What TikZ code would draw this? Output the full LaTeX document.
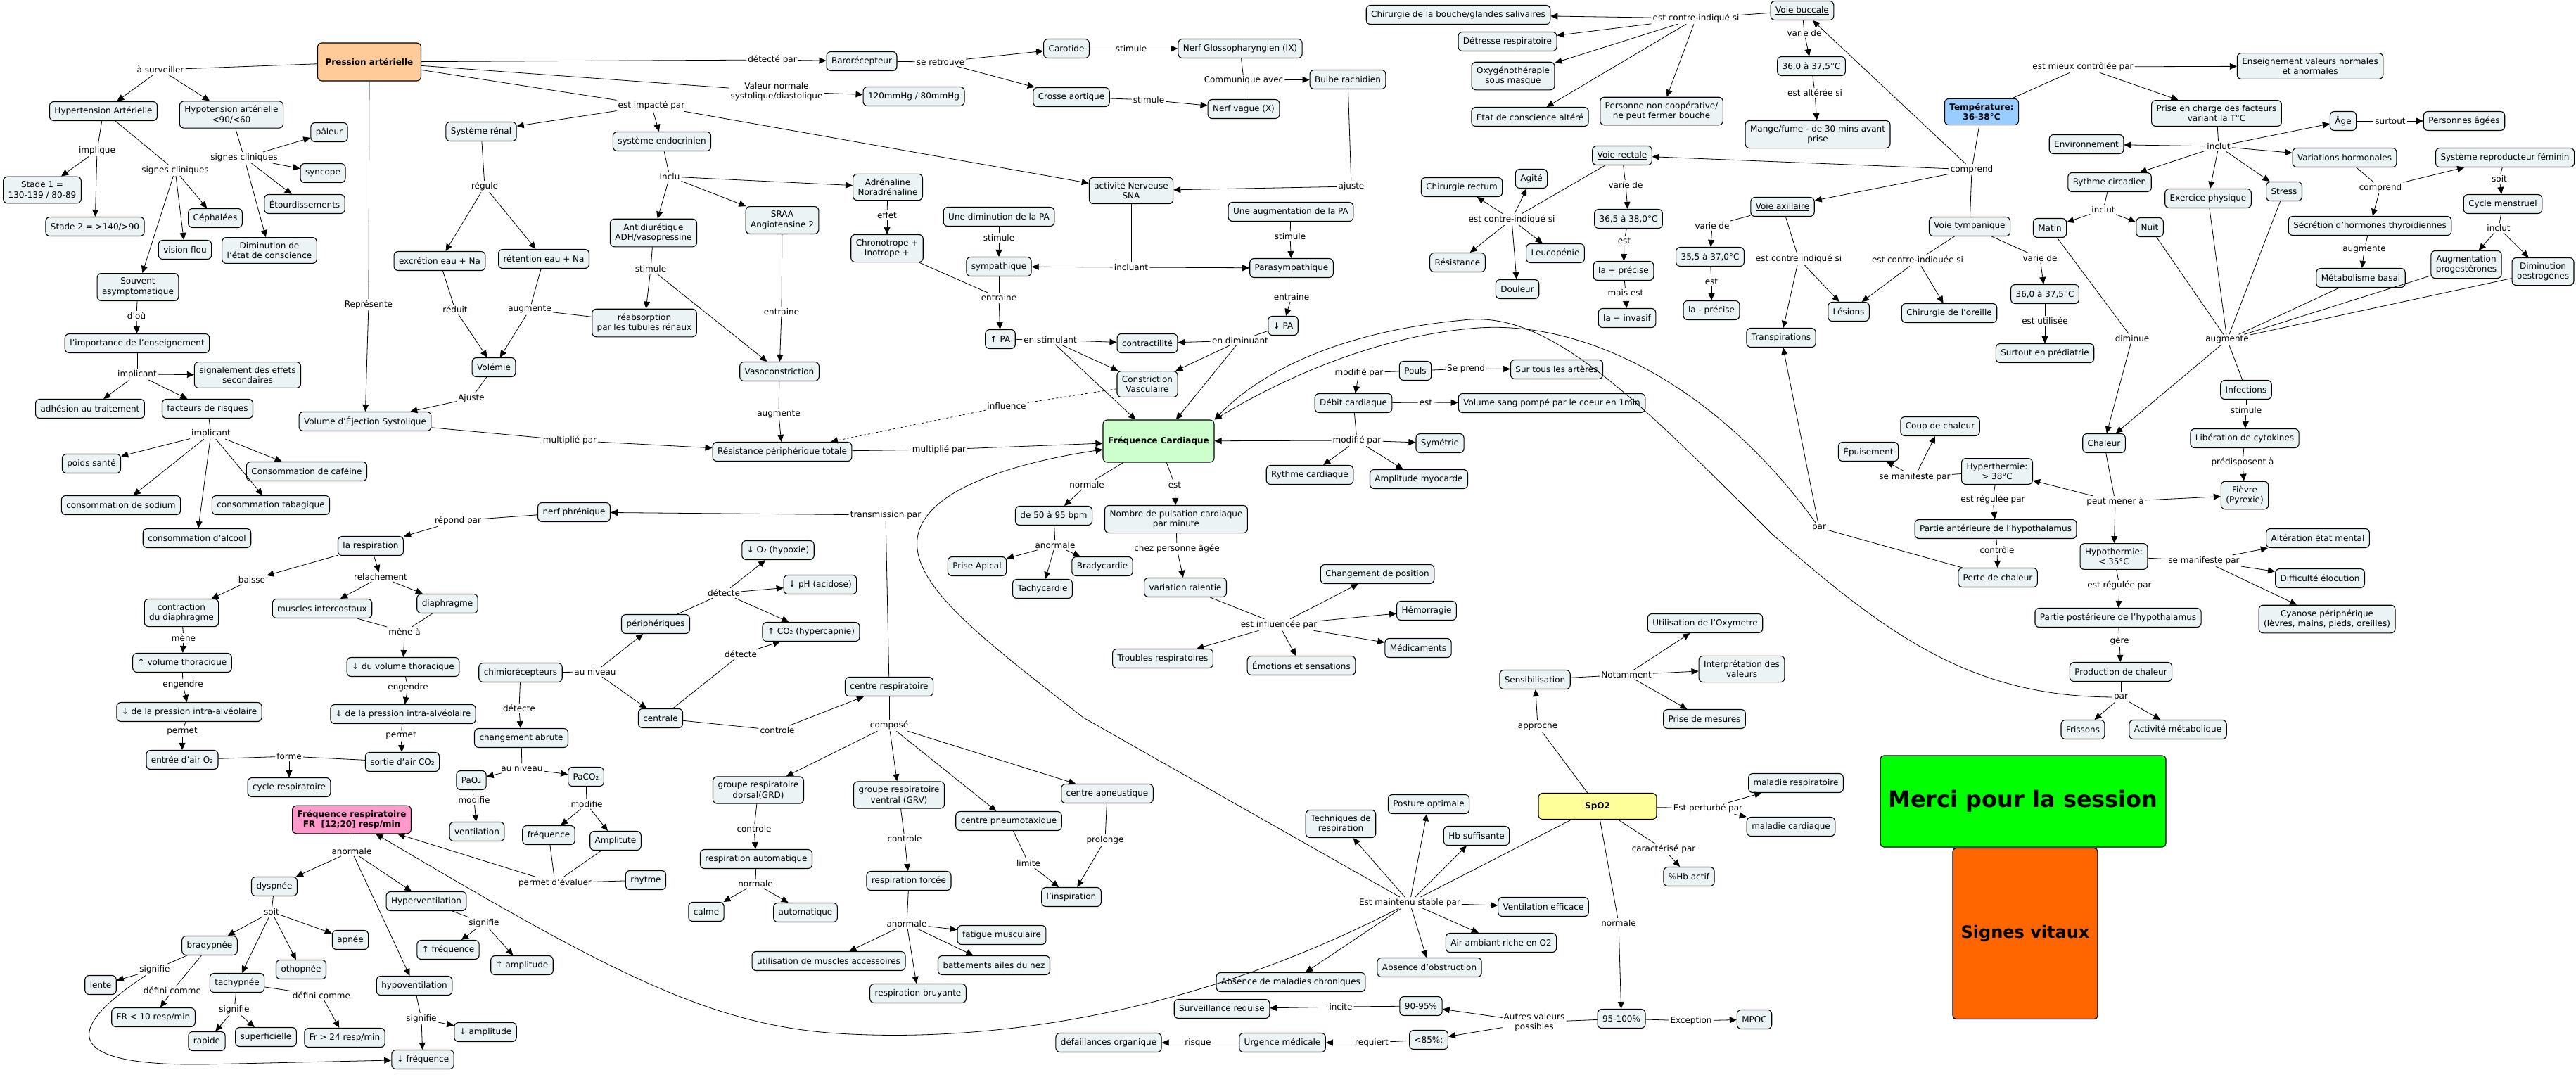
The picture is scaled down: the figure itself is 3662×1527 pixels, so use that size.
\documentclass[tikz,border=0pt]{standalone}
\usepackage{fontspec}
\setmainfont{DejaVu Sans}
\usetikzlibrary{arrows.meta}
\definecolor{nf}{RGB}{235,243,245}
\definecolor{cpa}{RGB}{255,204,153}
\definecolor{ctemp}{RGB}{153,204,255}
\definecolor{cfc}{RGB}{204,255,204}
\definecolor{cspo}{RGB}{255,255,153}
\definecolor{cfr}{RGB}{255,153,204}
\definecolor{cmerci}{RGB}{0,255,0}
\definecolor{csig}{RGB}{255,102,0}
\newcommand{\mfs}{\fontsize{12}{14.5}\selectfont}
\begin{document}
\begin{tikzpicture}[x=1pt,y=-1pt,
 n/.style={draw, line width=1.1pt, fill=nf, rounded corners=6pt, inner xsep=7pt, inner ysep=6.5pt, align=center, font=\mfs, minimum height=27pt},
 l/.style={inner sep=2pt, align=center, font=\mfs},
 ln/.style={line width=0.8pt},
 ar/.style={line width=0.8pt, -{Triangle[length=10pt,width=9pt]}},
 big/.style={n, font=\mfs\bfseries},
]
\fill[white] (0,0) rectangle (3662,1527);
\useasboundingbox (0,0) rectangle (3662,1527);

% ---------------- Pression arterielle group
\node[big, fill=cpa, minimum width=147pt, minimum height=54pt] (pa) at (525,88) {Pression artérielle};
\node[n] (hta) at (147,158) {Hypertension Artérielle};
\node[n] (hypo) at (329,163) {Hypotension artérielle\\<90/<60};
\node[n] (paleur) at (468,188) {pâleur};
\node[n] (syncope) at (459,246) {syncope};
\node[n] (etourd) at (433,290) {Étourdissements};
\node[n] (stade1) at (60,270) {Stade 1 =\\130-139 / 80-89};
\node[n] (ceph) at (306,310) {Céphalées};
\node[n] (stade2) at (135,322) {Stade 2 = >140/>90};
\node[n] (vision) at (263,355) {vision flou};
\node[n] (dimcons) at (383,356) {Diminution de\\l'état de conscience};
\node[n] (souvent) at (196,408) {Souvent\\asymptomatique};
\node[n] (import) at (195,488) {l'importance de l'enseignement};
\node[n] (signal) at (352,533) {signalement des effets\\secondaires};
\node[n] (adhes) at (128,581) {adhésion au traitement};
\node[n] (factrisk) at (295,581) {facteurs de risques};
\node[n] (poids) at (130,659) {poids santé};
\node[n] (cafe) at (436,670) {Consommation de caféine};
\node[n] (sodium) at (172,718) {consommation de sodium};
\node[n] (tabac) at (385,718) {consommation tabagique};
\node[n] (alcool) at (280,765) {consommation d'alcool};

\node[l] (lsurv) at (228,99) {à surveiller};
\node[l] (limpl) at (138,214) {implique};
\node[l] (lsc1) at (249,242) {signes cliniques};
\node[l] (lsc2) at (347,224) {signes cliniques};
\node[l] (ldou) at (194,449) {d'où};
\node[l] (limpc1) at (195,532) {implicant};
\node[l] (limpc2) at (300,616) {implicant};
\node[l] (lrep) at (524,433) {Représente};

% renal
\node[n] (renal) at (684,187) {Système rénal};
\node[l] (lreg) at (689,265) {régule};
\node[n] (excr) at (625,371) {excrétion eau + Na};
\node[n] (reten) at (773,368) {rétention eau + Na};
\node[l] (lred) at (647,440) {réduit};
\node[l] (laug1) at (753,440) {augmente};
\node[n] (volemie) at (702,522) {Volémie};
\node[l] (lajuste) at (670,566) {Ajuste};
\node[n] (ves) at (519,599) {Volume d'Éjection Systolique};
\node[l] (lmult1) at (810,626) {multiplié par};

% endocrine
\node[l] (limpact) at (926,150) {est impacté par};
\node[n] (endo) at (941,201) {système endocrinien};
\node[l] (linclu) at (952,251) {Inclu};
\node[n] (adh) at (929,331) {Antidiurétique\\ADH/vasopressine};
\node[n] (sraa) at (1112,313) {SRAA\\Angiotensine 2};
\node[n] (adren) at (1262,266) {Adrénaline\\Noradrénaline};
\node[l] (leffet) at (1261,306) {effet};
\node[n] (chrono) at (1261,353) {Chronotrope +\\Inotrope +};
\node[l] (lstim1) at (925,382) {stimule};
\node[n] (reabs) at (916,459) {réabsorption\\par les tubules rénaux};
\node[l] (lentr1) at (1111,443) {entraine};
\node[n] (vaso) at (1108,528) {Vasoconstriction};
\node[l] (laug2) at (1107,589) {augmente};
\node[n] (rpt) at (1112,642) {Résistance périphérique totale};
\node[l] (lmult2) at (1335,639) {multiplié par};
\node[l] (linfl) at (1431,577) {influence};

% baro
\node[l] (ldetect) at (1098,85) {détecté par};
\node[n] (baro) at (1225,87) {Barorécepteur};
\node[l] (lretr) at (1337,88) {se retrouve};
\node[n] (carot) at (1516,69) {Carotide};
\node[l] (lstim2) at (1608,69) {stimule};
\node[n] (glosso) at (1763,69) {Nerf Glossopharyngien (IX)};
\node[l] (lval) at (1104,130) {Valeur normale\\systolique/diastolique};
\node[n] (mmhg) at (1299,137) {120mmHg / 80mmHg};
\node[n] (crosse) at (1523,138) {Crosse aortique};
\node[l] (lstim3) at (1633,142) {stimule};
\node[n] (vague) at (1768,155) {Nerf vague (X)};
\node[l] (lcomm) at (1768,114) {Communique avec};
\node[n] (bulbe) at (1916,113) {Bulbe rachidien};
\node[l] (lajuste2) at (1921,265) {ajuste};

% SNA
\node[n] (sna) at (1608,271) {activité Nerveuse\\SNA};
\node[n] (dimpa) at (1420,308) {Une diminution de la PA};
\node[l] (lstim4) at (1420,338) {stimule};
\node[n] (sympa) at (1420,379) {sympathique};
\node[l] (lincl) at (1608,380) {incluant};
\node[n] (augpa) at (1835,301) {Une augmentation de la PA};
\node[l] (lstim5) at (1834,336) {stimule};
\node[n] (para) at (1836,381) {Parasympathique};
\node[l] (lentr2) at (1420,423) {entraine};
\node[l] (lentr3) at (1836,422) {entraine};
\node[n] (uppa) at (1422,482) {↑ PA};
\node[n] (downpa) at (1824,463) {↓ PA};
\node[l] (lenstim) at (1493,483) {en stimulant};
\node[n] (contr) at (1631,488) {contractilité};
\node[l] (lendim) at (1763,484) {en diminuant};
\node[n] (constr) at (1631,546) {Constriction\\Vasculaire};
\node[big, fill=cfc, minimum width=158pt, minimum height=60pt] (fc) at (1647,627) {Fréquence Cardiaque};

% FC group
\node[l] (lnorm1) at (1545,689) {normale};
\node[l] (lest1) at (1670,689) {est};
\node[n] (bpm) at (1498,733) {de 50 à 95 bpm};
\node[n] (nombre) at (1672,738) {Nombre de pulsation cardiaque\\par minute};
\node[l] (lanorm1) at (1500,775) {anormale};
\node[l] (lchez) at (1673,780) {chez personne âgée};
\node[n] (apical) at (1389,805) {Prise Apical};
\node[n] (brady) at (1567,805) {Bradycardie};
\node[n] (tachy) at (1482,837) {Tachycardie};
\node[n] (varral) at (1685,835) {variation ralentie};
\node[l] (linflu) at (1818,888) {est influencée par};
\node[n] (chpos) at (1958,816) {Changement de position};
\node[n] (hemo) at (2028,868) {Hémorragie};
\node[n] (medic) at (2016,921) {Médicaments};
\node[n] (emot) at (1850,946) {Émotions et sensations};
\node[n] (troubles) at (1653,936) {Troubles respiratoires};

% Pouls
\node[l] (lmod1) at (1932,530) {modifié par};
\node[n] (pouls) at (2012,527) {Pouls};
\node[l] (lprend) at (2084,524) {Se prend};
\node[n] (arteres) at (2213,525) {Sur tous les artères};
\node[n] (debit) at (1924,573) {Débit cardiaque};
\node[l] (lest2) at (2027,572) {est};
\node[n] (volsang) at (2206,573) {Volume sang pompé par le coeur en 1min};
\node[l] (lmod2) at (1929,626) {modifié par};
\node[n] (symetrie) at (2047,630) {Symétrie};
\node[n] (rythmec) at (1862,675) {Rythme cardiaque};
\node[n] (amplmyo) at (2017,681) {Amplitude myocarde};

% Voies
\node[n] (chirbouche) at (2073,21) {Chirurgie de la bouche/glandes salivaires};
\node[l] (lcib) at (2411,26) {est contre-indiqué si};
\node[n] (buccale) at (2562,15) {\underline{Voie buccale}};
\node[n] (detresse) at (2143,59) {Détresse respiratoire};
\node[n] (oxygeno) at (2151,108) {Oxygénothérapie\\sous masque};
\node[n] (etatcons) at (2175,166) {État de conscience altéré};
\node[n] (noncoop) at (2362,158) {Personne non coopérative/\\ne peut fermer bouche};
\node[l] (lvar1) at (2565,47) {varie de};
\node[n] (t1) at (2575,94) {36,0 à 37,5°C};
\node[l] (lalt) at (2580,132) {est altérée si};
\node[n] (mange) at (2584,191) {Mange/fume - de 30 mins avant\\prise};

\node[n] (rectale) at (2306,221) {\underline{Voie rectale}};
\node[n] (chirrect) at (2078,266) {Chirurgie rectum};
\node[n] (agite) at (2177,254) {Agité};
\node[l] (lcir) at (2149,312) {est contre-indiqué si};
\node[l] (lvar2) at (2311,263) {varie de};
\node[n] (t2) at (2315,311) {36,5 à 38,0°C};
\node[l] (lest3) at (2309,342) {est};
\node[n] (precise) at (2308,385) {la + précise};
\node[l] (lmais) at (2311,416) {mais est};
\node[n] (invasif) at (2313,452) {la + invasif};
\node[n] (resist) at (2072,373) {Résistance};
\node[n] (leuco) at (2211,360) {Leucopénie};
\node[n] (douleur) at (2157,411) {Douleur};

\node[n] (axill) at (2534,294) {\underline{Voie axillaire}};
\node[l] (lvar3) at (2434,321) {varie de};
\node[n] (t3) at (2431,365) {35,5 à 37,0°C};
\node[l] (lest4) at (2433,400) {est};
\node[n] (moinsprec) at (2433,441) {la - précise};
\node[l] (lcia) at (2557,368) {est contre indiqué si};
\node[l] (lcit) at (2726,370) {est contre-indiquée si};
\node[n] (lesions) at (2628,443) {Lésions};
\node[n] (chiroreille) at (2771,445) {Chirurgie de l'oreille};
\node[n] (transp) at (2532,480) {Transpirations};

% Temperature
\node[l] (lmieux) at (2961,95) {est mieux contrôlée par};
\node[n] (enseign) at (3284,94) {Enseignement valeurs normales\\et anormales};
\node[big, fill=ctemp] (temp) at (2817,159) {Température:\\36-38°C};
\node[n] (prise) at (3151,161) {Prise en charge des facteurs\\variant la T°C};
\node[n] (age) at (3331,172) {Âge};
\node[l] (lsurtout) at (3398,172) {surtout};
\node[n] (agees) at (3503,172) {Personnes âgées};
\node[n] (envir) at (2966,205) {Environnement};
\node[l] (lincl2) at (3154,208) {inclut};
\node[n] (varhorm) at (3333,224) {Variations hormonales};
\node[n] (sysrep) at (3561,224) {Système reproducteur féminin};
\node[l] (lcompr1) at (2803,241) {comprend};
\node[n] (rythmecirc) at (2999,259) {Rythme circadien};
\node[n] (exerc) at (3139,282) {Exercice physique};
\node[n] (stress) at (3247,272) {Stress};
\node[l] (lcompr2) at (3384,267) {comprend};
\node[l] (lsoit1) at (3553,254) {soit};
\node[n] (cycle) at (3558,290) {Cycle menstruel};
\node[l] (lincl3) at (2990,298) {inclut};
\node[n] (matin) at (2914,324) {Matin};
\node[n] (nuit) at (3056,323) {Nuit};
\node[n] (tymp) at (2800,322) {\underline{Voie tympanique}};
\node[n] (secr) at (3369,321) {Sécrétion d'hormones thyroïdiennes};
\node[l] (lincl4) at (3552,324) {inclut};
\node[l] (lvar4) at (2900,367) {varie de};
\node[l] (laug3) at (3361,355) {augmente};
\node[n] (progest) at (3506,376) {Augmentation\\progestérones};
\node[n] (oestro) at (3615,386) {Diminution\\oestrogènes};
\node[n] (metab) at (3356,395) {Métabolisme basal};
\node[n] (t4) at (2907,418) {36,0 à 37,5°C};
\node[l] (lutil) at (2907,456) {est utilisée};
\node[n] (pediat) at (2907,502) {Surtout en prédiatrie};
\node[l] (ldim) at (3031,481) {diminue};
\node[l] (laug4) at (3166,483) {augmente};

% Heat
\node[n] (infect) at (3193,554) {Infections};
\node[l] (lstim6) at (3193,583) {stimule};
\node[n] (chaleur) at (2991,630) {Chaleur};
\node[n] (cytok) at (3191,623) {Libération de cytokines};
\node[n] (coup) at (2758,606) {Coup de chaleur};
\node[n] (epuis) at (2656,642) {Épuisement};
\node[l] (lmanif1) at (2722,678) {se manifeste par};
\node[n] (hyper) at (2839,670) {Hyperthermie:\\> 38°C};
\node[l] (lmener) at (3007,713) {peut mener à};
\node[l] (lpred) at (3188,657) {prédisposent à};
\node[n] (fievre) at (3191,704) {Fièvre\\(Pyrexie)};
\node[l] (lreg1) at (2833,710) {est régulée par};
\node[n] (anter) at (2837,752) {Partie antérieure de l'hypothalamus};
\node[l] (lctrl) at (2839,782) {contrôle};
\node[n] (perte) at (2840,821) {Perte de chaleur};
\node[n] (hypoth) at (3005,791) {Hypothermie:\\< 35°C};
\node[l] (lmanif2) at (3133,797) {se manifeste par};
\node[n] (alter) at (3295,765) {Altération état mental};
\node[n] (elocut) at (3298,822) {Difficulté élocution};
\node[n] (cyanose) at (3308,880) {Cyanose périphérique\\(lèvres, mains, pieds, oreilles)};
\node[l] (lreg2) at (3013,832) {est régulée par};
\node[n] (post) at (3011,878) {Partie postérieure de l'hypothalamus};
\node[l] (lgere) at (3013,911) {gère};
\node[n] (prod) at (3015,955) {Production de chaleur};
\node[l] (lpar1) at (3015,991) {par};
\node[n] (frissons) at (2961,1037) {Frissons};
\node[n] (metabact) at (3096,1037) {Activité métabolique};
\node[l] (lpar2) at (2586,750) {par};

\node[draw, line width=1.1pt, fill=cmerci, rounded corners=5pt, minimum width=406pt, minimum height=130pt, font=\fontsize{32}{38}\selectfont\bfseries] (merci) at (2876,1139) {Merci pour la session};
\node[draw, line width=1.1pt, fill=csig, rounded corners=5pt, minimum width=206pt, minimum height=243pt, font=\fontsize{24}{29}\selectfont\bfseries] (signes) at (2879,1327) {Signes vitaux};

% Respiratory
\node[n] (nerf) at (816,728) {nerf phrénique};
\node[l] (lrep2) at (651,740) {répond par};
\node[l] (ltrans) at (1259,732) {transmission par};
\node[n] (resp) at (527,776) {la respiration};
\node[l] (lbaisse) at (358,824) {baisse};
\node[l] (lrelach) at (541,820) {relachement};
\node[n] (contrd) at (258,871) {contraction\\du diaphragme};
\node[n] (muscles) at (458,865) {muscles intercostaux};
\node[n] (diaph) at (636,858) {diaphragme};
\node[l] (lmene1) at (261,907) {mène};
\node[l] (lmene2) at (575,898) {mène à};
\node[n] (upvol) at (259,942) {↑ volume thoracique};
\node[n] (downvol) at (573,948) {↓ du volume thoracique};
\node[n] (chimio) at (740,956) {chimiorécepteurs};
\node[l] (lniv1) at (846,955) {au niveau};
\node[n] (periph) at (932,887) {périphériques};
\node[l] (lengen1) at (260,973) {engendre};
\node[l] (lengen2) at (580,977) {engendre};
\node[l] (ldet1) at (738,1007) {détecte};
\node[n] (press1) at (269,1012) {↓ de la pression intra-alvéolaire};
\node[n] (press2) at (573,1015) {↓ de la pression intra-alvéolaire};
\node[l] (lperm1) at (259,1040) {permet};
\node[l] (lperm2) at (570,1046) {permet};
\node[n] (entree) at (259,1080) {entrée d'air O₂};
\node[l] (lforme) at (411,1075) {forme};
\node[n] (sortie) at (572,1083) {sortie d'air CO₂};
\node[n] (cycleresp) at (411,1119) {cycle respiratoire};
\node[n] (chgt) at (741,1049) {changement abrute};
\node[l] (lniv2) at (742,1092) {au niveau};
\node[n] (pao2) at (670,1109) {PaO₂};
\node[n] (paco2) at (833,1104) {PaCO₂};
\node[l] (lmodif1) at (674,1137) {modifie};
\node[l] (lmodif2) at (834,1143) {modifie};
\node[n] (ventil) at (678,1182) {ventilation};
\node[big, fill=cfr] (fr) at (500,1165) {Fréquence respiratoire\\FR~~[12;20] resp/min};
\node[n] (freq) at (780,1187) {fréquence};
\node[n] (amplit) at (875,1195) {Amplitute};
\node[l] (lanorm2) at (500,1210) {anormale};
\node[l] (leval) at (789,1255) {permet d'évaluer};
\node[n] (rhytme) at (918,1251) {rhytme};
\node[n] (dysp) at (390,1260) {dyspnée};
\node[n] (hyperv) at (606,1281) {Hyperventilation};
\node[l] (lsoit2) at (386,1296) {soit};
\node[l] (lsig1) at (688,1312) {signifie};
\node[n] (bradyp) at (298,1344) {bradypnée};
\node[n] (apnee) at (498,1336) {apnée};
\node[n] (upfreq) at (637,1350) {↑ fréquence};
\node[n] (upampl) at (742,1372) {↑ amplitude};
\node[l] (lsig2) at (220,1378) {signifie};
\node[n] (lente) at (143,1400) {lente};
\node[n] (othop) at (428,1378) {othopnée};
\node[n] (tachyp) at (337,1397) {tachypnée};
\node[n] (hypov) at (589,1401) {hypoventilation};
\node[l] (ldef1) at (245,1408) {défini comme};
\node[l] (ldef2) at (457,1415) {défini comme};
\node[n] (fr10) at (218,1446) {FR < 10 resp/min};
\node[l] (lsig3) at (333,1435) {signifie};
\node[l] (lsig4) at (599,1448) {signifie};
\node[n] (downampl) at (690,1467) {↓ amplitude};
\node[n] (rapide) at (294,1480) {rapide};
\node[n] (superf) at (378,1474) {superficielle};
\node[n] (fr24) at (490,1475) {Fr > 24 resp/min};
\node[n] (downfreq) at (601,1506) {↓ fréquence};

\node[n] (o2) at (1106,782) {↓ O₂ (hypoxie)};
\node[n] (ph) at (1166,831) {↓ pH (acidose)};
\node[l] (ldet2) at (1029,843) {détecte};
\node[n] (co2) at (1153,898) {↑ CO₂ (hypercapnie)};
\node[l] (ldet3) at (1053,930) {détecte};
\node[n] (centresp) at (1264,976) {centre respiratoire};
\node[n] (centrale) at (939,1021) {centrale};
\node[l] (lctrl2) at (1105,1038) {controle};
\node[l] (lcompo) at (1264,1031) {composé};
\node[n] (grd) at (1078,1123) {groupe respiratoire\\dorsal(GRD)};
\node[n] (grv) at (1278,1130) {groupe respiratoire\\ventral (GRV)};
\node[n] (apneu) at (1574,1128) {centre apneustique};
\node[n] (pneumo) at (1434,1167) {centre pneumotaxique};
\node[l] (lctrl3) at (1072,1178) {controle};
\node[l] (lctrl4) at (1286,1192) {controle};
\node[l] (lprol) at (1571,1194) {prolonge};
\node[l] (llim) at (1462,1227) {limite};
\node[n] (respauto) at (1075,1221) {respiration automatique};
\node[l] (lnorm2) at (1074,1256) {normale};
\node[n] (respforc) at (1292,1252) {respiration forcée};
\node[n] (inspir) at (1523,1275) {l'inspiration};
\node[n] (calme) at (1004,1296) {calme};
\node[n] (auto) at (1145,1297) {automatique};
\node[l] (lanorm3) at (1289,1313) {anormale};
\node[n] (fatigue) at (1424,1329) {fatigue musculaire};
\node[n] (muscacc) at (1178,1366) {utilisation de muscles accessoires};
\node[n] (batt) at (1413,1372) {battements ailes du nez};
\node[n] (bruy) at (1305,1412) {respiration bruyante};

% SpO2
\node[n] (sensib) at (2182,966) {Sensibilisation};
\node[l] (lnot) at (2312,959) {Notamment};
\node[n] (oxym) at (2424,886) {Utilisation de l'Oxymetre};
\node[n] (interp) at (2476,951) {Interprétation des\\valeurs};
\node[n] (mesures) at (2423,1022) {Prise de mesures};
\node[l] (lappr) at (2186,1032) {approche};
\node[big, fill=cspo, minimum width=168pt, minimum height=37pt] (spo2) at (2271,1146) {SpO2};
\node[n] (malresp) at (2553,1113) {maladie respiratoire};
\node[l] (lpert) at (2428,1149) {Est perturbé par};
\node[n] (malcard) at (2546,1175) {maladie cardiaque};
\node[n] (posture) at (2031,1143) {Posture optimale};
\node[n] (techn) at (1906,1171) {Techniques de\\respiration};
\node[n] (hb) at (2099,1188) {Hb suffisante};
\node[l] (lcarac) at (2365,1207) {caractérisé par};
\node[n] (hbactif) at (2401,1246) {\%Hb actif};
\node[l] (lstab) at (2004,1283) {Est maintenu stable par};
\node[n] (ventef) at (2194,1289) {Ventilation efficace};
\node[l] (lnorm3) at (2301,1312) {normale};
\node[n] (air) at (2134,1340) {Air ambiant riche en O2};
\node[n] (obstr) at (2032,1375) {Absence d'obstruction};
\node[n] (chron) at (1835,1396) {Absence de maladies chroniques};
\node[n] (p9095) at (2020,1430) {90-95\%};
\node[l] (linc) at (1906,1431) {incite};
\node[n] (surv) at (1737,1434) {Surveillance requise};
\node[l] (lautres) at (2181,1453) {Autres valeurs\\possibles};
\node[n] (p95) at (2305,1448) {95-100\%};
\node[l] (lexc) at (2404,1451) {Exception};
\node[n] (mpoc) at (2494,1449) {MPOC};
\node[n] (p85) at (2031,1478) {<85\%:};
\node[l] (lreq) at (1950,1482) {requiert};
\node[n] (urg) at (1823,1482) {Urgence médicale};
\node[l] (lrisque) at (1703,1482) {risque};
\node[n] (defail) at (1576,1482) {défaillances organique};

% ---------------- plain connectors (concept -> linking phrase)
\foreach \a/\b in {pa/lsurv, pa/ldetect, pa/lval, pa/limpact, pa/lrep,
 hta/limpl, hta/lsc1, hypo/lsc2, souvent/ldou, import/limpc1, factrisk/limpc2,
 renal/lreg, excr/lred, reten/laug1, reabs/laug1, volemie/lajuste, ves/lmult1,
 endo/linclu, adren/leffet, adh/lstim1, sraa/lentr1, chrono/lentr2, vaso/laug2, rpt/lmult2,
 baro/lretr, carot/lstim2, crosse/lstim3, glosso/lcomm, vague/lcomm, bulbe/lajuste2,
 sna/lincl, dimpa/lstim4, augpa/lstim5, sympa/lentr2, para/lentr3, uppa/lenstim, downpa/lendim,
 fc/lnorm1, fc/lest1, bpm/lanorm1, nombre/lchez, varral/linflu,
 pouls/lmod1, pouls/lprend, debit/lest2, debit/lmod2,
 buccale/lcib, buccale/lvar1, t1/lalt, rectale/lcir, rectale/lvar2, t2/lest3, precise/lmais,
 axill/lvar3, t3/lest4, axill/lcia, tymp/lcit, tymp/lvar4, t4/lutil, lcompr1/tymp,
 temp/lmieux, temp/lcompr1, prise/lincl2, age/lsurtout, varhorm/lcompr2, sysrep/lsoit1, cycle/lincl4, secr/laug3, rythmecirc/lincl3,
 matin/ldim, nuit/laug4, exerc/laug4, stress/laug4, metab/laug4, progest/laug4, oestro/laug4, infect/laug4,
 infect/lstim6, cytok/lpred, chaleur/lmener, hyper/lmanif1, hyper/lreg1, anter/lctrl, perte/lpar2,
 hypoth/lmanif2, hypoth/lreg2, post/lgere, prod/lpar1,
 centresp/ltrans, nerf/lrep2, contrd/lmene1, muscles/lmene2, diaph/lmene2, upvol/lengen1, downvol/lengen2,
 press1/lperm1, press2/lperm2, entree/lforme, sortie/lforme,
 chimio/lniv1, chimio/ldet1, periph/ldet2, centrale/ldet3, centrale/lctrl2, chgt/lniv2, pao2/lmodif1, paco2/lmodif2,
 freq/leval, amplit/leval, rhytme/leval,
 centresp/lcompo, grd/lctrl3, grv/lctrl4, pneumo/llim, apneu/lprol, respauto/lnorm2, respforc/lanorm3,
 fr/lanorm2, dysp/lsoit2, hyperv/lsig1, bradyp/lsig2, bradyp/ldef1, tachyp/ldef2, tachyp/lsig3, hypov/lsig4,
 sensib/lnot, spo2/lappr, spo2/lpert, spo2/lcarac, spo2/lstab, spo2/lnorm3, p95/lexc, p95/lautres, p9095/linc, p85/lreq, urg/lrisque}
 \draw[ln] (\a) -- (\b);

% ---------------- arrows (linking phrase -> concept)
\foreach \a/\b in {lsurv/hta, lsurv/hypo, ldetect/baro, lval/mmhg, limpact/renal, limpact/endo, limpact/sna, lrep/ves,
 limpl/stade1, limpl/stade2, lsc1/ceph, lsc1/vision, lsc1/souvent, lsc2/paleur, lsc2/syncope, lsc2/etourd, lsc2/dimcons, ldou/import,
 limpc1/signal, limpc1/adhes, limpc1/factrisk, limpc2/poids, limpc2/cafe, limpc2/sodium, limpc2/tabac, limpc2/alcool,
 lreg/excr, lreg/reten, lred/volemie, laug1/volemie, lajuste/ves, lmult1/rpt,
 linclu/adh, linclu/sraa, linclu/adren, leffet/chrono, lstim1/reabs, lstim1/vaso, lentr1/vaso, laug2/rpt, lmult2/fc,
 lretr/carot, lretr/crosse, lstim2/glosso, lstim3/vague, lcomm/bulbe, lajuste2/sna,
 lincl/sympa, lincl/para, lstim4/sympa, lstim5/para, lentr2/uppa, lentr3/downpa,
 lenstim/contr, lenstim/constr, lenstim/fc, lendim/contr, lendim/constr, lendim/fc,
 lnorm1/bpm, lest1/nombre, lanorm1/apical, lanorm1/brady, lanorm1/tachy, lchez/varral,
 linflu/chpos, linflu/hemo, linflu/medic, linflu/emot, linflu/troubles,
 lmod1/debit, lprend/arteres, lest2/volsang, lmod2/fc, lmod2/symetrie, lmod2/rythmec, lmod2/amplmyo,
 lcib/chirbouche, lcib/detresse, lcib/oxygeno, lcib/etatcons, lcib/noncoop, lvar1/t1, lalt/mange,
 lcir/chirrect, lcir/agite, lcir/resist, lcir/douleur, lcir/leuco, lvar2/t2, lest3/precise, lmais/invasif,
 lvar3/t3, lest4/moinsprec, lcia/lesions, lcia/transp, lcit/lesions, lcit/chiroreille, lvar4/t4, lutil/pediat,
 lmieux/enseign, lmieux/prise, lcompr1/buccale, lcompr1/rectale, lcompr1/axill,
 lincl2/envir, lincl2/age, lincl2/varhorm, lincl2/rythmecirc, lincl2/exerc, lincl2/stress, lsurtout/agees,
 lcompr2/sysrep, lcompr2/secr, lsoit1/cycle, lincl4/progest, lincl4/oestro, laug3/metab, lincl3/matin, lincl3/nuit,
 ldim/chaleur, laug4/chaleur, lstim6/cytok, lpred/fievre, lmener/hyper, lmener/fievre, lmener/hypoth,
 lmanif1/epuis, lmanif1/coup, lreg1/anter, lctrl/perte, lpar2/transp, lmanif2/alter, lmanif2/elocut, lmanif2/cyanose,
 lreg2/post, lgere/prod, lpar1/frissons, lpar1/metabact,
 ltrans/nerf, lrep2/resp, resp/lbaisse, resp/lrelach, lbaisse/contrd, lrelach/muscles, lrelach/diaph,
 lmene1/upvol, lmene2/downvol, lengen1/press1, lengen2/press2, lperm1/entree, lperm2/sortie, lforme/cycleresp,
 lniv1/periph, lniv1/centrale, ldet2/o2, ldet2/ph, ldet2/co2, ldet3/co2, lctrl2/centresp, ldet1/chgt,
 lniv2/pao2, lniv2/paco2, lmodif1/ventil, lmodif2/freq, lmodif2/amplit, leval/fr,
 lcompo/grd, lcompo/grv, lcompo/pneumo, lcompo/apneu, lctrl3/respauto, lctrl4/respforc, llim/inspir, lprol/inspir,
 lnorm2/calme, lnorm2/auto, lanorm3/fatigue, lanorm3/muscacc, lanorm3/batt, lanorm3/bruy,
 lanorm2/dysp, lanorm2/hyperv, lanorm2/hypov, lsoit2/bradyp, lsoit2/tachyp, lsoit2/othop, lsoit2/apnee,
 lsig1/upfreq, lsig1/upampl, lsig2/lente, ldef1/fr10, ldef2/fr24, lsig3/rapide, lsig3/superf, lsig4/downampl, lsig4/downfreq,
 lappr/sensib, lnot/oxym, lnot/interp, lnot/mesures, lpert/malresp, lpert/malcard, lcarac/hbactif, lnorm3/p95,
 lexc/mpoc, lautres/p9095, lautres/p85, linc/surv, lreq/urg, lrisque/defail,
 lstab/techn, lstab/posture, lstab/hb, lstab/ventef, lstab/air, lstab/obstr, lstab/chron}
 \draw[ar] (\a) -- (\b);

% dashed influence
\draw[ln, dashed] (constr) -- (linfl);
\draw[ar, dashed] (linfl) -- (rpt);

% curved connectors
\draw[ar] (lsig2) .. controls (80,1470) and (100,1515) .. (290,1513) -- (downfreq);
\draw[ar] (lstab) .. controls (1700,1440) and (1420,1480) .. (1210,1470) .. controls (1020,1462) and (880,1390) .. (fr);
\draw[ar] (lstab) -- (1540,1020) .. controls (1400,910) and (1290,830) .. (1305,760) .. controls (1320,690) and (1460,655) .. (fc);
\draw[ar] (lpar1) .. controls (2800,990) and (2680,900) .. (2520,760) .. controls (2320,560) and (2200,440) .. (2080,455) .. controls (1920,470) and (1800,520) .. (fc.north east);
\draw[ar] (lpar2) .. controls (2450,560) and (2260,450) .. (2090,467) .. controls (1950,480) and (1820,540) .. (fc.north east);
\end{tikzpicture}
\end{document}
